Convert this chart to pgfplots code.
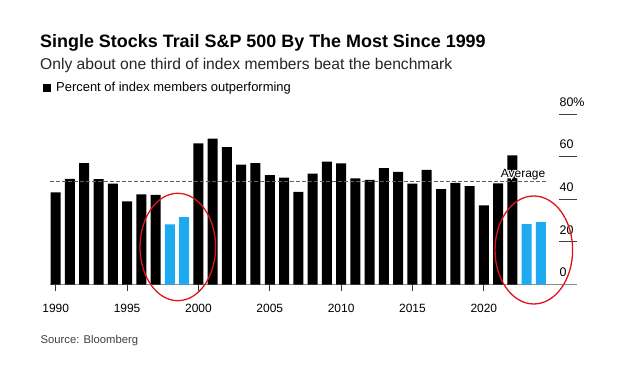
\documentclass[border=0pt]{standalone}
\usepackage{pgfplots}
\pgfplotsset{compat=1.18}
\usepackage{fontspec}
\setmainfont{Liberation Sans}
\definecolor{bbblue}{RGB}{30,170,240}
\definecolor{ellred}{RGB}{225,20,30}
\definecolor{axgray}{RGB}{140,140,140}
\newcommand{\halotext}[1]{\rlap{\color{white}\special{pdf:literal 1 Tr 2.2 w 1 1 1 RG}#1\special{pdf:literal 0 Tr}}#1}
\begin{document}
\begin{tikzpicture}
\path[use as bounding box, fill=white] (0,0) rectangle (617bp,370bp);
\begin{axis}[
  at={(50bp,85.5bp)}, anchor=south west,
  scale only axis, width=527bp, height=170.5bp,
  xmin=1989.6, xmax=2026.53, ymin=0, ymax=80,
  axis y line=none,
  axis x line*=bottom,
  x axis line style={axgray, line width=1.2pt, -},
  xtick={1990,1995,2000,2005,2010,2015,2020},
  tick align=outside,
  major tick length=6bp,
  x tick style={black!80, line width=0.8pt},
  xticklabel style={font=\fontsize{12}{14}\selectfont, anchor=base, yshift=-22.2bp},
  /pgf/number format/.cd, 1000 sep={}, assume math mode=true,
  /pgfplots/.cd,
  clip=false,
]
\addplot[ybar, bar width=10bp, bar shift=0pt, fill=black, draw=none] coordinates {
(1990,43.2) (1991,49.6) (1992,57.0) (1993,49.5) (1994,47.3) (1995,39.0) (1996,42.3) (1997,42.1)
(2000,66.2) (2001,68.4) (2002,64.5) (2003,56.2) (2004,57.0) (2005,51.3) (2006,50.2) (2007,43.5)
(2008,52.0) (2009,57.6) (2010,56.8) (2011,49.8) (2012,49.1) (2013,54.6) (2014,52.9) (2015,47.3)
(2016,53.8) (2017,44.8) (2018,47.7) (2019,46.2) (2020,37.1) (2021,47.4) (2022,60.6)};
\addplot[ybar, bar width=10bp, bar shift=0pt, fill=bbblue, draw=none] coordinates {
(1998,28.2) (1999,31.6) (2023,28.3) (2024,29.3)};
\addplot[black!62, line width=1.1pt, dash pattern=on 3.5bp off 2.5bp] coordinates {(1989.6,48.5) (2024.4,48.5)};
\coordinate (avg) at (axis cs:2022.75,50.3);
\pgfplotsinvokeforeach{20,40,60}{
  \draw[black!75, line width=0.8pt] (axis cs:2025.3,#1) -- (axis cs:2026.53,#1);
  \node[anchor=base west, inner sep=0pt, font=\fontsize{12.5}{14}\selectfont] at ([yshift=7.7bp]axis cs:2025.3,#1) {#1};
}
\draw[black!75, line width=0.8pt] (axis cs:2025.3,80) -- (axis cs:2026.53,80);
\node[anchor=base west, inner sep=0pt, font=\fontsize{12.5}{14}\selectfont] at ([yshift=7.7bp]axis cs:2025.3,80) {80\%};
\node[anchor=base west, inner sep=0pt, font=\fontsize{12.5}{14}\selectfont] at ([yshift=7.7bp]axis cs:2025.3,0) {0};
\end{axis}
\node[anchor=base, font=\fontsize{12}{14}\selectfont, inner sep=0pt] at (avg) {\halotext{Average}};
% ellipses (annotations)
\draw[ellred, line width=1.3pt] (177.8bp,123bp) ellipse [x radius=37.8bp, y radius=53.7bp];
\draw[ellred, line width=1.3pt] (533.8bp,120bp) ellipse [x radius=38.8bp, y radius=54bp];
% titles
\node[anchor=base west, inner sep=0pt, font=\bfseries\fontsize{18}{20}\selectfont] at (40bp,322.7bp) {Single Stocks Trail S\&P 500 By The Most Since 1999};
\node[anchor=base west, inner sep=0pt, font=\fontsize{15.7}{18}\selectfont, text=black!85] at (40bp,300bp) {Only about one third of index members beat the benchmark};
\fill[black] (42.5bp,277.5bp) rectangle (50.5bp,285.5bp);
\node[anchor=base west, inner sep=0pt, font=\fontsize{13}{15}\selectfont] at (56bp,278.3bp) {Percent of index members outperforming};
\node[anchor=base west, inner sep=0pt, font=\fontsize{11.3}{13}\selectfont, text=black!75] at (40.5bp,27bp) {Source: Bloomberg};
\end{tikzpicture}
\end{document}
